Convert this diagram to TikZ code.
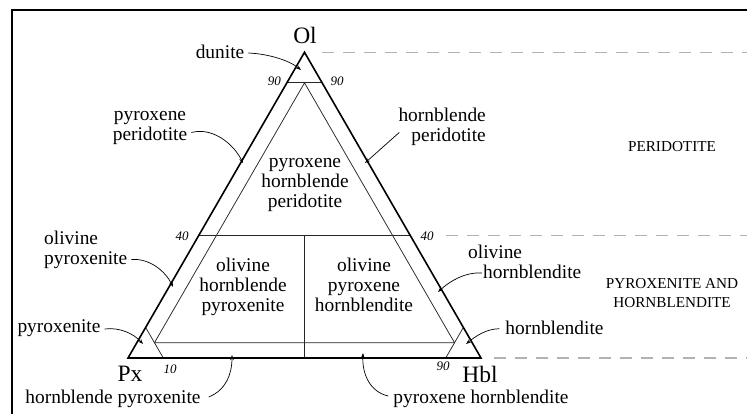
\documentclass[tikz,border=0pt]{standalone}
\usepackage{fontspec}
\setmainfont{Liberation Serif}
\usetikzlibrary{arrows.meta}
\begin{document}
\begin{tikzpicture}[x=1pt,y=-1pt,
  lbl/.style={font=\fontsize{19.4}{20}\selectfont, inner sep=0pt, align=center},
  vtx/.style={font=\fontsize{23.5}{24}\selectfont, inner sep=0pt},
  num/.style={font=\fontsize{13}{13}\selectfont\itshape, inner sep=0pt},
  capl/.style={font=\fontsize{15.2}{19}\selectfont, inner sep=0pt, align=center},
  ptr/.style={line width=0.7pt, -{Stealth[length=5pt,width=3.6pt]}},
  outerline/.style={line width=1.6pt, line join=miter},
  innerline/.style={line width=0.75pt, black!85},
  guide/.style={gray!60, line width=1.1pt, dash pattern=on 12pt off 9pt},
  framel/.style={line width=2pt}]
\useasboundingbox (0,0) rectangle (747,414);
% frame
\coordinate (fTL) at (12,10.3);
\coordinate (fTR) at (747,10.3);
\coordinate (fBL) at (12,414);
\draw[framel] (fBL) -- (fTL) -- (fTR);
% triangle corners
\coordinate (Pxc) at (128,358);
\coordinate (Hblc) at (481,358);
\coordinate (Olc) at (304.5,52.3);
% guide lines
\coordinate (g1a) at (322,52.3);   \coordinate (g1b) at (747,52.3);
\coordinate (g2a) at (446,235.72); \coordinate (g2b) at (747,235.72);
\coordinate (g3a) at (494,358);    \coordinate (g3b) at (747,358);
\draw[guide] (g1a) -- (g1b);
\draw[guide] (g2a) -- (g2b);
\draw[guide] (g3a) -- (g3b);
% internal points
\coordinate (a90l) at (286.85,82.87);
\coordinate (a90r) at (322.15,82.87);
\coordinate (a90m) at (304.5,82.87);
\coordinate (a40l) at (198.6,235.72);
\coordinate (a40r) at (410.4,235.72);
\coordinate (a40m) at (304.5,235.72);
\coordinate (ibl) at (154.475,342.715);
\coordinate (ibr) at (454.525,342.715);
\coordinate (px90b) at (163.3,358);
\coordinate (px90s) at (145.65,327.43);
\coordinate (hb90b) at (445.7,358);
\coordinate (hb90s) at (463.35,327.43);
\coordinate (basem) at (304.5,358);
\draw[innerline] (a90l) -- (a90r);
\draw[innerline] (a40l) -- (a40r);
\draw[innerline] (a90m) -- (ibl) -- (ibr) -- cycle;
\draw[innerline] (px90b) -- (px90s);
\draw[innerline] (hb90b) -- (hb90s);
\draw[innerline] (a40m) -- (basem);
\draw[outerline] (Pxc) -- (Hblc) -- (Olc) -- cycle;
% vertex labels
\node[vtx] (Ol) at (305,35) {Ol};
\node[vtx] (Px) at (130,374) {Px};
\node[vtx] (Hbl) at (480,374) {Hbl};
% numbers
\node[num, anchor=east] (n90l) at (281,81) {90};
\node[num] (n90r) at (337,81) {90};
\node[num] (n40l) at (182,236) {40};
\node[num] (n40r) at (427,236) {40};
\node[num] (n10) at (170,369) {10};
\node[num] (n90b) at (443,366) {90};
% field labels
\node[lbl] (php) at (305,185) {pyroxene\\hornblende\\peridotite};
\node[lbl] (ohp) at (243,286.7) {olivine\\hornblende\\pyroxenite};
\node[lbl] (oph) at (364,284.7) {olivine\\pyroxene\\hornblendite};
% outside labels
\node[lbl] (dun) at (220,52) {dunite};
\node[lbl] (ppd) at (150,127.5) {pyroxene\\peridotite};
\node[lbl, align=right, anchor=east] (hpd) at (486,126.4) {hornblende\\peridotite};
\node[lbl, align=left, anchor=west] (opx) at (44,249.5) {olivine\\pyroxenite};
\node[lbl] (pxn) at (59,328) {pyroxenite};
\node[lbl] (hpx) at (113,399) {hornblende pyroxenite};
\node[lbl] (phb) at (481,399) {pyroxene hornblendite};
\node[lbl, align=left, anchor=west] (ohb) at (468,262) {olivine\\\hspace*{15pt}hornblendite};
\node[lbl] (hbn) at (554.5,327.7) {hornblendite};
\node[capl] (cper) at (672,147) {PERIDOTITE};
\node[capl] (cpxh) at (672,293) {PYROXENITE AND\\HORNBLENDITE};
% arrow tips
\coordinate (tdun) at (301,70);
\coordinate (tppd) at (243,163);
\coordinate (thpd) at (365,163);
\coordinate (topx) at (173,287);
\coordinate (tpxn) at (143,344);
\coordinate (thpx) at (232,355);
\coordinate (tphb) at (363,353);
\coordinate (tohb) at (438,292);
\coordinate (thbn) at (466,344);
% pointers
\draw[ptr] ([shift={(4,1)}]dun.east) .. controls (270,54) and (290,61) .. (tdun);
\draw[ptr] ([shift={(4,5)}]ppd.east) .. controls (212,127) and (233,143) .. (tppd);
\draw[ptr] ([shift={(1,6)}]hpd.west) -- (thpd);
\draw[ptr] ([shift={(4,10)}]opx.east) .. controls (150,258) and (166,272) .. (topx);
\draw[ptr] ([shift={(4,1)}]pxn.east) .. controls (120,327) and (134,334) .. (tpxn);
\draw[ptr] ([shift={(8,-2)}]hpx.east) .. controls (226,390) and (232,374) .. (thpx);
\draw[ptr] ([shift={(-5,-3)}]phb.west) .. controls (370,392) and (362,374) .. (tphb);
\draw[ptr] ([shift={(14,11)}]ohb.west) .. controls (465,272) and (450,281) .. (tohb);
\draw[ptr] ([shift={(-6,1)}]hbn.west) .. controls (486,329) and (476,336) .. (thbn);
\end{tikzpicture}
\end{document}
